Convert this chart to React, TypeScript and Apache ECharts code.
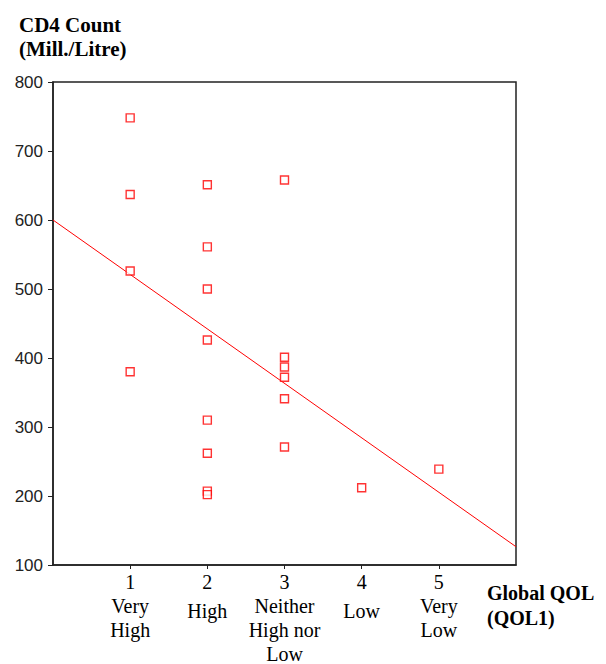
import React, { useEffect, useRef } from "react";
import * as echarts from "echarts";

const xTickNumbers = [1, 2, 3, 4, 5];
const xTickNames = ["Very\nHigh", "High", "Neither\nHigh nor\nLow", "Low", "Very\nLow"];
const yTicks = [100, 200, 300, 400, 500, 600, 700, 800];

// CD4 counts by Global QOL group
const qolValues = [1, 1, 1, 1, 2, 2, 2, 2, 2, 2, 2, 2, 3, 3, 3, 3, 3, 3, 4, 5];
const cd4Values = [748, 637, 526, 380, 651, 561, 500, 426, 310, 262, 207, 202, 658, 401, 387, 372, 341, 271, 212, 239];

const yTitle = "CD4 Count\n(Mill./Litre)";
const xTitle = "Global QOL\n(QOL1)";

function regression(xs: number[], ys: number[]) {
  const n = xs.length;
  const mx = xs.reduce((a, b) => a + b, 0) / n;
  const my = ys.reduce((a, b) => a + b, 0) / n;
  let sxy = 0;
  let sxx = 0;
  for (let i = 0; i < n; i++) {
    sxy += (xs[i] - mx) * (ys[i] - my);
    sxx += (xs[i] - mx) * (xs[i] - mx);
  }
  const b = sxy / sxx;
  return { a: my - b * mx, b };
}

export default function App() {
  const ref = useRef<HTMLDivElement>(null);
  useEffect(() => {
    if (!ref.current) return;
    const chart = echarts.init(ref.current, null, { renderer: "svg" });
    const { a, b } = regression(qolValues, cd4Values);
    const fitLine = [
      [0, a],
      [6, a + b * 6],
    ];
    const serif = "'Liberation Serif', 'Times New Roman', serif";
    chart.setOption({
      animation: false,
      backgroundColor: "#fff",
      title: {
        text: yTitle,
        left: 14,
        top: 8,
        textStyle: {
          fontFamily: serif,
          fontWeight: "bold",
          fontSize: 21,
          lineHeight: 24,
          color: "#000",
        },
      },
      graphic: [
        {
          type: "text",
          left: 487,
          top: 580,
          style: {
            text: xTitle,
            font: "bold 20px " + serif,
            lineHeight: 25,
            fill: "#000",
          },
        },
      ],
      grid: {
        left: 53,
        top: 82,
        right: 90,
        bottom: 98,
        show: true,
        borderColor: "#222",
        borderWidth: 1.5,
        containLabel: false,
      },
      xAxis: {
        type: "value",
        min: 0,
        max: 6,
        interval: 1,
        splitLine: { show: false },
        axisLine: { show: true, lineStyle: { color: "#222", width: 1.5 } },
        axisTick: { show: true, length: 4, lineStyle: { color: "#222" } },
        axisLabel: {
          margin: 5,
          showMinLabel: false,
          showMaxLabel: false,
          formatter: (v: number) => {
            const idx = xTickNumbers.indexOf(v);
            if (idx < 0) return "";
            const lines = xTickNames[idx].split("\n");
            const style = lines.length === 1 ? "s" : "t";
            return ["{n|" + v + "}"].concat(lines.map((l) => "{" + style + "|" + l + "}")).join("\n");
          },
          rich: {
            n: { fontFamily: serif, fontSize: 20, lineHeight: 24, color: "#000" },
            t: { fontFamily: serif, fontSize: 20, lineHeight: 24, color: "#000" },
            s: { fontFamily: serif, fontSize: 20, lineHeight: 34, color: "#000" },
          },
        },
      },
      yAxis: {
        type: "value",
        min: 100,
        max: 800,
        interval: 100,
        splitLine: { show: false },
        axisLine: { show: true, lineStyle: { color: "#222", width: 1.5 } },
        axisTick: { show: true, length: 5, lineStyle: { color: "#222" } },
        axisLabel: {
          margin: 10,
          fontFamily: "'Liberation Sans', Arial, sans-serif",
          fontSize: 17,
          color: "#222",
          formatter: (v: number) => (yTicks.indexOf(v) >= 0 ? String(v) : ""),
        },
      },
      series: [
        {
          type: "line",
          data: fitLine,
          symbol: "none",
          silent: true,
          lineStyle: { color: "#ff0000", width: 1 },
          z: 2,
        },
        {
          type: "scatter",
          data: qolValues.map((q, i) => [q, cd4Values[i]]),
          symbol: "rect",
          symbolSize: 8,
          itemStyle: { color: "#fff", borderColor: "#ff0000", borderWidth: 1.4 },
          z: 3,
        },
      ],
    });
    return () => chart.dispose();
  }, []);
  return (
    <div
      ref={ref}
      style={{ position: "fixed", left: 0, top: 0, width: 606, height: 664 }}
    />
  );
}
